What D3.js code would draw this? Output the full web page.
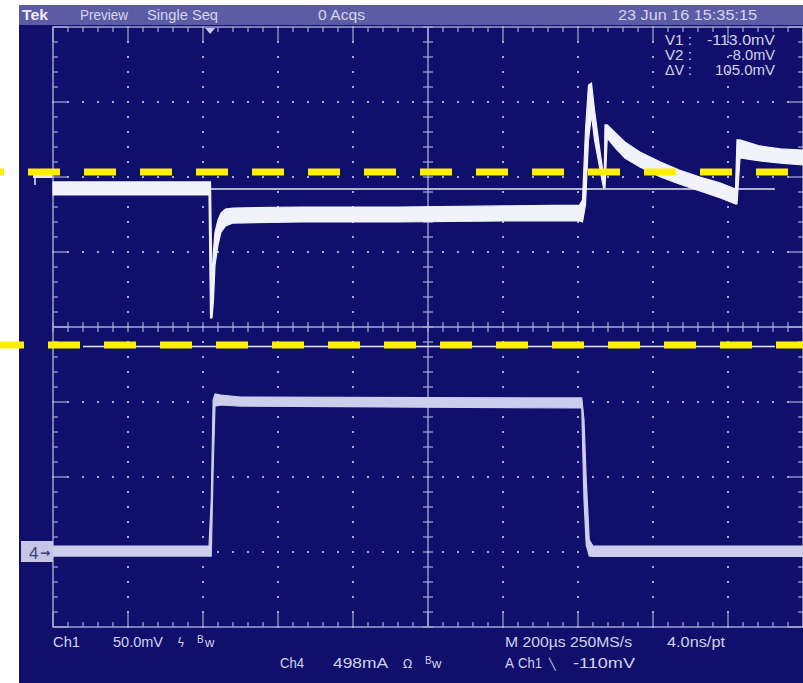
<!DOCTYPE html>
<html><head><meta charset="utf-8">
<script src="https://cdn.jsdelivr.net/npm/d3@7"></script>
<style>body{margin:0;background:#fff}svg{display:block}</style>
</head><body>
<script>
// ---- data (time in µs, Ch1 in mV, Ch4 in mA) ----
const ch1Time = [-1000,-584,-580,-576,-572,-568,-560,-552,-540,-520,-340,-80,200,404,412,420,428,436,444,460,468,470,472,478,500,525,565,620,670,725,780,820,824,832,885,940,1000];
const ch1High = [-3.3,-3.3,-3.3,-72,-48.7,-36.7,-28.7,-24,-21.3,-20.7,-20,-20,-19.3,-18.7,-15.3,31.3,61.3,62.7,44.7,14.7,1.3,0.7,34.7,34.7,29.3,23.3,16.7,10,4.7,0,-4,-8,24.7,24.7,20.7,18.7,18];
const ch1Low  = [-12,-12,-94,-94,-82,-58.7,-45.3,-36.7,-32.7,-30.7,-30,-30,-29.3,-29.3,-30,-18.7,24.7,41.3,24.7,3.3,-7.3,-7.3,-7.3,26,19.3,12.7,6.7,0,-4.7,-9.3,-14,-18,-18,12.7,10.7,9.3,8];
const ch4Time = [-1000,-584,-578,-573,-568,-552,-500,400,410,416,422,430,440,1000];
const ch4High = [40,40,345,1009,1049,1042,1029,1023,1023,876,478,80,40,40];
const ch4Low  = [-27,-27,-27,544,969,976,969,956,956,345,46,-27,-30,-30];
const cursorLevels = [-8.0, -113.0];      // Ch1 cursors V2, V1 (mV)
const markLevels = [3.3, -112];           // yellow dashed annotation lines (mV)
const titleTexts = ["Tek","Preview","Single Seq","0 Acqs","23 Jun 16 15:35:15"];
const readLabels = ["V1 :","V2 :","\u0394V :"];
const readValues = ["-113.0mV","-8.0mV","105.0mV"];

// ---- layout ----
const W=803,H=683;
const gx0=53,gx1=803,gy0=27,gy1=627;
const x = d3.scaleLinear().domain([-1000,1000]).range([gx0,gx1]);
const yDiv = d3.scaleLinear().domain([-4,4]).range([gy1,gy0]);
const ch1Pos=2, ch1VDiv=50, ch4Pos=-3, ch4IDiv=498;
const y1 = d3.scaleLinear().domain([(-4-ch1Pos)*ch1VDiv,(4-ch1Pos)*ch1VDiv]).range([gy1,gy0]);
const y4 = d3.scaleLinear().domain([(-4-ch4Pos)*ch4IDiv,(4-ch4Pos)*ch4IDiv]).range([gy1,gy0]);

const navy="#10106c", grid="#a9a9d6", txt="#d2d2ec";
const FONT="'Liberation Sans',Arial,sans-serif";

const svg=d3.select("body").append("svg").attr("width",W).attr("height",H);
svg.append("rect").attr("width",W).attr("height",H).attr("fill","#fff");
svg.append("rect").attr("x",19).attr("y",5).attr("width",W-19).attr("height",H-5).attr("fill",navy);
svg.append("rect").attr("x",19).attr("y",5).attr("width",W-19).attr("height",20).attr("fill","#5c5ca4");

// ---- graticule ----
const g=svg.append("g");
const xMajor=d3.range(-1000,1001,200), xMinor=d3.range(-1000,1001,40);
const yMajor=d3.range(-4,4.01,1), yMinor=d3.range(-4,4.01,0.2).map(v=>Math.round(v*10)/10);
const dots=[];
xMajor.filter(t=>t!==0&&Math.abs(t)!==1000).forEach(t=>yMinor.forEach(v=>dots.push([x(t),yDiv(v)])));
yMajor.filter(v=>v!==0&&Math.abs(v)!==4).forEach(v=>xMinor.forEach(t=>dots.push([x(t),yDiv(v)])));
g.selectAll("rect.dot").data(dots).join("rect").attr("class","dot")
 .attr("x",d=>d[0]-1).attr("y",d=>d[1]-1).attr("width",2).attr("height",2).attr("fill",grid);
g.append("line").attr("x1",gx0).attr("x2",gx1).attr("y1",yDiv(0)).attr("y2",yDiv(0)).attr("stroke",grid).attr("stroke-width",1.3);
g.append("line").attr("x1",x(0)).attr("x2",x(0)).attr("y1",gy0).attr("y2",gy1).attr("stroke",grid).attr("stroke-width",1.3);
xMinor.forEach(t=>g.append("line").attr("x1",x(t)).attr("x2",x(t)).attr("y1",yDiv(0)-5).attr("y2",yDiv(0)+5).attr("stroke",grid).attr("stroke-width",1.2));
yMinor.forEach(v=>g.append("line").attr("y1",yDiv(v)).attr("y2",yDiv(v)).attr("x1",x(0)-5).attr("x2",x(0)+5).attr("stroke",grid).attr("stroke-width",1.2));
g.append("rect").attr("x",gx0).attr("y",gy0).attr("width",gx1-gx0).attr("height",gy1-gy0).attr("fill","none").attr("stroke",grid).attr("stroke-width",1.4);
xMinor.forEach(t=>{const L=(Math.round(t)%200===0)?15:5;
  g.append("line").attr("x1",x(t)).attr("x2",x(t)).attr("y1",gy0).attr("y2",gy0+L).attr("stroke",grid).attr("stroke-width",1.2);
  g.append("line").attr("x1",x(t)).attr("x2",x(t)).attr("y1",gy1).attr("y2",gy1-L).attr("stroke",grid).attr("stroke-width",1.2);});
yMinor.forEach(v=>{const L=(Math.abs(v-Math.round(v))<1e-6)?15:5;
  g.append("line").attr("y1",yDiv(v)).attr("y2",yDiv(v)).attr("x1",gx0).attr("x2",gx0+L).attr("stroke",grid).attr("stroke-width",1.2);
  g.append("line").attr("y1",yDiv(v)).attr("y2",yDiv(v)).attr("x1",gx1).attr("x2",gx1-L).attr("stroke",grid).attr("stroke-width",1.2);});
const tx=x(-581);
g.append("path").attr("d",`M${tx-5},${gy0+1}L${tx+5},${gy0+1}L${tx},${gy0+7}Z`).attr("fill","#c8c8e8");

// ---- cursors ----
cursorLevels.forEach(v=>svg.append("line").attr("x1",x(-920)).attr("x2",x(925)).attr("y1",y1(v)).attr("y2",y1(v)).attr("stroke","#e6e6f4").attr("stroke-width",1.3));

// ---- traces ----
const ch1=ch1Time.map((t,i)=>({t,hi:ch1High[i],lo:ch1Low[i]}));
const ch4=ch4Time.map((t,i)=>({t,hi:ch4High[i],lo:ch4Low[i]}));
svg.append("path").datum(ch4).attr("d",d3.area().x(d=>x(d.t)).y0(d=>y4(d.lo)).y1(d=>y4(d.hi))).attr("fill","#cdcdec").attr("stroke","#cdcdec").attr("stroke-width",1.2);
svg.append("path").datum(ch1).attr("d",d3.area().x(d=>x(d.t)).y0(d=>y1(d.lo)).y1(d=>y1(d.hi))).attr("fill","#f2f2fa").attr("stroke","#f2f2fa").attr("stroke-width",1.2);

// ---- channel markers ----
svg.append("rect").attr("x",33).attr("y",y1(0)-3).attr("width",19).attr("height",4).attr("fill","#e8e8f4");
svg.append("line").attr("x1",35).attr("x2",35).attr("y1",y1(0)).attr("y2",y1(0)+8).attr("stroke","#e8e8f4").attr("stroke-width",1.5);
const m4=y4(0);
svg.append("rect").attr("x",21).attr("y",m4-11).attr("width",32).attr("height",21).attr("fill","#c6c6e4");
svg.append("text").attr("x",29).attr("y",m4+7).attr("font-family",FONT).attr("font-size",17).attr("fill","#3c3c88").text("4");
svg.append("text").attr("x",40).attr("y",m4+5).attr("font-family","DejaVu Sans").attr("font-size",12).attr("font-weight","bold").attr("fill","#3c3c88").text("\u2192");

// ---- yellow annotation lines ----
markLevels.forEach((v,i)=>svg.append("line").attr("x1",0).attr("x2",W).attr("y1",y1(v)).attr("y2",y1(v))
  .attr("stroke","#ffee00").attr("stroke-width",7).attr("stroke-dasharray","32,24").attr("stroke-dashoffset",i===0?28:8));

// ---- texts ----
function T(s,xx,yy,o={}){const e=svg.append("text").attr("x",xx).attr("y",yy).attr("font-family",o.ff||FONT)
  .attr("font-size",o.fs||14).attr("fill",o.fill||txt).attr("text-anchor",o.anchor||"start").attr("font-weight",o.fw||"normal").text(s);
  if(o.len){e.attr("textLength",o.len).attr("lengthAdjust","spacingAndGlyphs");} return e;}
T(titleTexts[0],22,20,{fw:"bold",fill:"#ececf6",len:26});
T(titleTexts[1],80,20,{len:48,fill:"#d6d6ee"});
T(titleTexts[2],147,20,{len:71,fill:"#d6d6ee"});
T(titleTexts[3],318,20,{len:47,fill:"#d6d6ee"});
T(titleTexts[4],618,20,{len:139,fill:"#d6d6ee"});
readLabels.forEach((s,i)=>T(s,665,45+i*15,{len:27}));
const valStart=[707,728,715];
readValues.forEach((s,i)=>T(s,valStart[i],45+i*15,{len:775-valStart[i]}));
T("Ch1",53,647,{len:27});
T("50.0mV",113,647,{len:50});
T("\u03DF",177,647,{ff:"DejaVu Sans",fs:12});
T("B",197,643,{fs:10});T("w",205,647,{fs:13});
T("Ch4",280,668,{len:24});
T("498mA",333,668,{len:55});
T("\u03A9",403,668,{ff:"DejaVu Sans",fs:12});
T("B",425,664,{fs:10});T("w",432,668,{fs:13});
T("M 200\u00B5s 250MS/s",505,647,{len:127});
T("4.0ns/pt",667,647,{len:58});
T("A",505,668,{len:9});
T("Ch1",518,668,{len:24});
T("\u2572",549,668,{ff:"DejaVu Sans",fs:11});
T("-110mV",573,668,{len:62});
</script>
</body></html>
